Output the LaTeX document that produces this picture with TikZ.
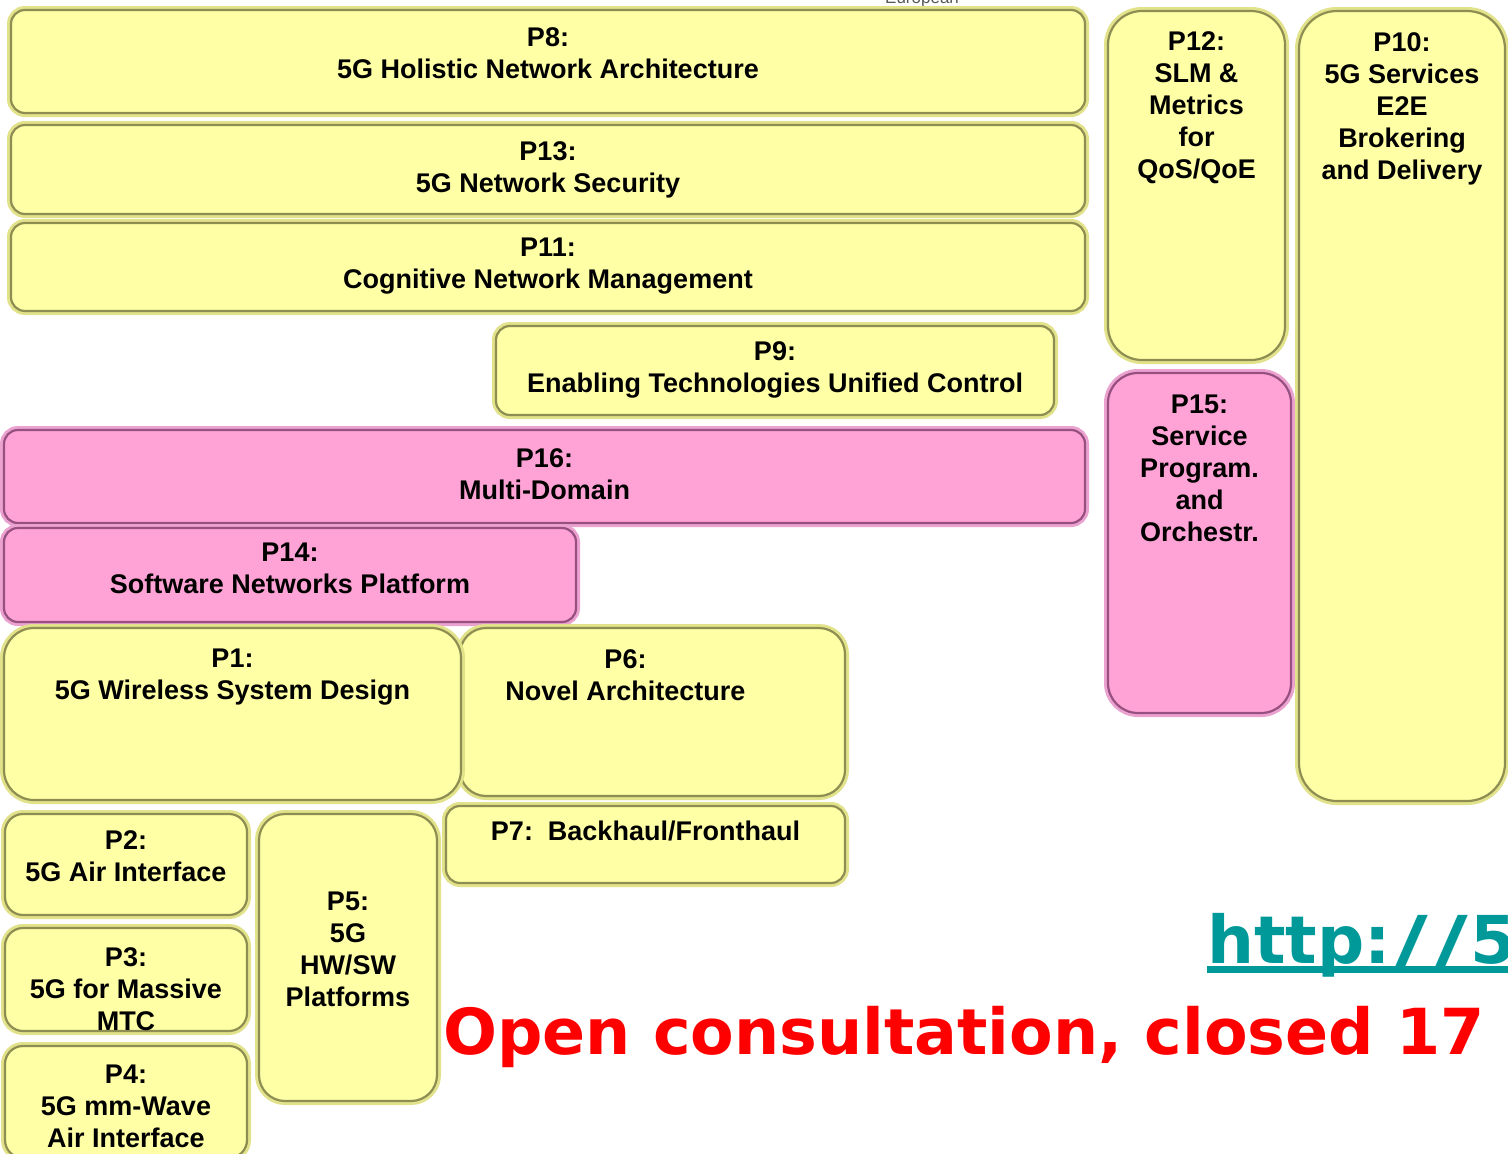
\documentclass[tikz,border=0pt]{standalone}
\usepackage{fontspec}
\setmainfont{Liberation Sans}
\newfontfamily\verdfont{DejaVu Sans}
\usetikzlibrary{positioning}

\definecolor{wpfill}{HTML}{FFFFA6}
\definecolor{wprim}{HTML}{E2E28A}
\definecolor{wpedge}{HTML}{8E8E52}
\definecolor{smfill}{HTML}{FFA3D6}
\definecolor{smrim}{HTML}{EBA2D0}
\definecolor{smedge}{HTML}{985080}
\definecolor{urlteal}{HTML}{009999}

\tikzset{
  wpbox/.style = {anchor=north west, inner sep=0pt, outer sep=0pt, rounded corners=14pt,
    fill=wpfill, draw=wpedge, line width=2.2pt, preaction={draw=wprim, line width=8pt}},
  smbox/.style = {anchor=north west, inner sep=0pt, outer sep=0pt, rounded corners=14pt,
    fill=smfill, draw=smedge, line width=2.2pt, preaction={draw=smrim, line width=8pt}},
  wplabel/.style = {align=center, inner sep=0pt, font=\fontsize{27}{32}\selectfont\bfseries}
}

\begin{document}
\begin{tikzpicture}[x=1pt, y=-1pt]
\useasboundingbox (0,0) rectangle (1508,1154);
\fill[white] (0,0) rectangle (1508,1154);

\node[text=black!65, font=\fontsize{17}{20}\selectfont, anchor=base west, inner sep=0pt] (eu) at (885,3) {European};

% upper layers
\node[wpbox, minimum width=1074pt, minimum height=103pt] (p8) at (11,10) {};
\node[wplabel, below=17pt of p8.north] (t8) {P8:\\5G Holistic Network Architecture};
\node[wpbox, minimum width=1074pt, minimum height=89pt] (p13) at (11,125) {};
\node[wplabel, below=16pt of p13.north] (t13) {P13:\\5G Network Security};
\node[wpbox, minimum width=1074pt, minimum height=88pt] (p11) at (11,223) {};
\node[wplabel, below=15pt of p11.north] (t11) {P11:\\Cognitive Network Management};
\node[wpbox, minimum width=558pt, minimum height=89pt] (p9) at (496,326) {};
\node[wplabel, below=15pt of p9.north] (t9) {P9:\\Enabling Technologies Unified Control};

% software networks
\node[smbox, minimum width=1081pt, minimum height=93pt] (p16) at (4,430) {};
\node[wplabel, below=18pt of p16.north] (t16) {P16:\\Multi-Domain};
\node[smbox, minimum width=572pt, minimum height=94pt] (p14) at (4,528) {};
\node[wplabel, below=15pt of p14.north] (t14) {P14:\\Software Networks Platform};

% radio and transport
\node[wpbox, rounded corners=26pt, minimum width=385pt, minimum height=168pt] (p6) at (460,628) {};
\node[wplabel, below=21pt of p6.north, xshift=-27pt] (t6) {P6:\\Novel Architecture};
\node[wpbox, rounded corners=30pt, minimum width=457pt, minimum height=172pt] (p1) at (4,628) {};
\node[wplabel, below=21pt of p1.north] (t1) {P1:\\5G Wireless System Design};
\node[wpbox, minimum width=399pt, minimum height=77pt] (p7) at (446,806) {};
\node[wplabel, below=15pt of p7.north] (t7) {P7:\ \ Backhaul/Fronthaul};
\node[wpbox, rounded corners=18pt, minimum width=242pt, minimum height=101pt] (p2) at (5,814) {};
\node[wplabel, below=16pt of p2.north] (t2) {P2:\\5G Air Interface};
\node[wpbox, rounded corners=18pt, minimum width=242pt, minimum height=103pt] (p3) at (5,928) {};
\node[wplabel, below=19pt of p3.north] (t3) {P3:\\5G for Massive\\MTC};
\node[wpbox, rounded corners=18pt, minimum width=242pt, minimum height=112pt] (p4) at (5,1046) {};
\node[wplabel, below=19pt of p4.north] (t4) {P4:\\5G mm-Wave\\Air Interface};
\node[wpbox, rounded corners=26pt, minimum width=178pt, minimum height=287pt] (p5) at (259,814) {};
\node[wplabel, below=78pt of p5.north] (t5) {P5:\\5G\\HW/SW\\Platforms};

% services column
\node[wpbox, rounded corners=34pt, minimum width=177pt, minimum height=349pt] (p12) at (1108,11) {};
\node[wplabel, below=20pt of p12.north] (t12) {P12:\\SLM \&\\Metrics\\for\\QoS/QoE};
\node[smbox, rounded corners=30pt, minimum width=183pt, minimum height=340pt] (p15) at (1108,373) {};
\node[wplabel, below=22pt of p15.north] (t15) {P15:\\Service\\Program.\\and\\Orchestr.};
\node[wpbox, rounded corners=38pt, minimum width=206pt, minimum height=790pt] (p10) at (1299,11) {};
\node[wplabel, below=21pt of p10.north] (t10) {P10:\\5G Services\\E2E\\Brokering\\and Delivery};

% notes
\node[anchor=base west, inner sep=0pt, text=urlteal, font=\verdfont\bfseries\fontsize{66}{72}\selectfont] (url) at (1207,963)
  {http:\makebox[40pt]{\scalebox{1.4}[1]{/}}\makebox[40pt]{\scalebox{1.4}[1]{/}}5};
\draw[urlteal, line width=6.5pt] ([yshift=-6.5pt]url.base west) -- ([yshift=-6.5pt]url.base east);
\node[anchor=base west, inner sep=0pt, text=red, font=\verdfont\bfseries\fontsize{63.5}{70}\selectfont] (consult) at (443,1054) {Open consultation, closed 17};
\end{tikzpicture}
\end{document}
